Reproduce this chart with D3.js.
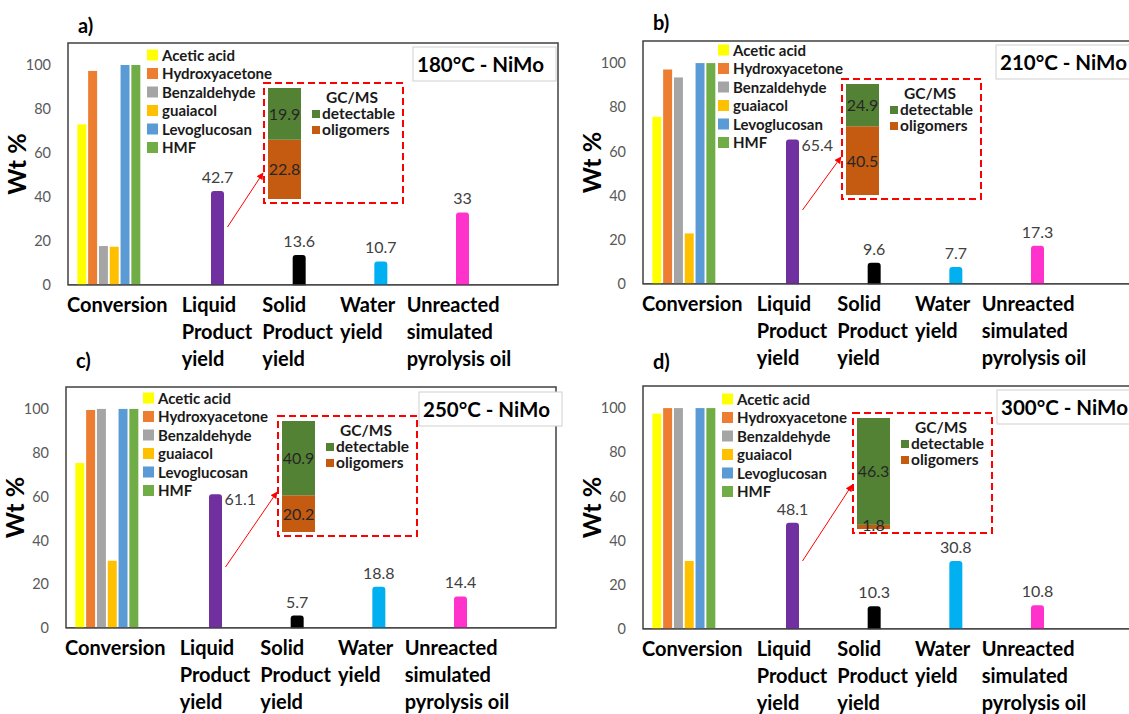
<!DOCTYPE html>
<html>
<head>
<meta charset="utf-8">
<script src="https://cdn.jsdelivr.net/npm/d3@7"></script>
<style>
  body { margin: 0; background: #fff; }
  svg { font-family: Lato, "Open Sans", sans-serif; }
</style>
</head>
<body>
<svg id="chart" width="1129" height="714"></svg>
<script>
// Data
const compounds = ['Acetic acid', 'Hydroxyacetone', 'Benzaldehyde', 'guaiacol', 'Levoglucosan', 'HMF'];
const categories = ['Conversion', 'Liquid Product yield', 'Solid Product yield', 'Water yield', 'Unreacted simulated pyrolysis oil'];
const categoryLines = [['Conversion'], ['Liquid', 'Product', 'yield'], ['Solid', 'Product', 'yield'], ['Water', 'yield'], ['Unreacted', 'simulated', 'pyrolysis oil']];
const yieldCategories = categories.slice(1);
const panelLetters = ['a)', 'b)', 'c)', 'd)'];
const panelTitles = ['180°C - NiMo', '210°C - NiMo', '250°C - NiMo', '300°C - NiMo'];

const conversionA = [73, 97.3, 17.7, 17.4, 100, 100];
const conversionB = [75.7, 97.1, 93.5, 22.9, 100, 100];
const conversionC = [75.3, 99.5, 100, 30.7, 100, 100];
const conversionD = [97.5, 100, 100, 30.8, 100, 100];

const yieldsA = [42.7, 13.6, 10.7, 33];
const yieldsB = [65.4, 9.6, 7.7, 17.3];
const yieldsC = [61.1, 5.7, 18.8, 14.4];
const yieldsD = [48.1, 10.3, 30.8, 10.8];

const gcmsSeries = ['detectable', 'oligomers'];
const detectable = [19.9, 24.9, 40.9, 46.3];
const oligomers = [22.8, 40.5, 20.2, 1.8];

const yTicks = [0, 20, 40, 60, 80, 100];

// Colours
const compoundColors = ['#FFFF00', '#ED7D31', '#A5A5A5', '#FFC000', '#5B9BD5', '#70AD47'];
const yieldColors = ['#7030A0', '#000000', '#00B0F0', '#FF33CC'];
const gcmsColors = { detectable: '#548235', oligomers: '#C55A11' };

// Panel placement on the page
const panelLayout = [
  { x: 68, y: 43, h: 242, liquidLabel: 'top', inset: [196, 40], title: [345, 4], legend: [79, 12], letterDy: -10, arrow: [58, 90] },
  { x: 643, y: 41, h: 243, liquidLabel: 'right', inset: [199, 38], title: [353, 4], legend: [75, 9], letterDy: -11, arrow: [74, 78] },
  { x: 66, y: 387, h: 241, liquidLabel: 'right', inset: [212, 29], title: [353, 5], legend: [77, 11], letterDy: -19, arrow: [61, 76] },
  { x: 643, y: 386, h: 243, liquidLabel: 'top', inset: [210, 27], title: [354, 4], legend: [79, 13], letterDy: -17, arrow: [68, 72] }
];
const plotWidth = 490;
const labelDx = [-1, 32, 31, 27, 12];

const svg = d3.select('#chart');

svg.append('defs').append('marker')
  .attr('id', 'arrowhead')
  .attr('viewBox', '0 0 10 10')
  .attr('refX', 9)
  .attr('refY', 5)
  .attr('markerWidth', 7)
  .attr('markerHeight', 7)
  .attr('orient', 'auto')
  .append('path')
  .attr('d', 'M0,0 L10,5 L0,10 z')
  .attr('fill', '#FF0000');

function createPanel(i, conversion, yields) {
  const L = panelLayout[i];
  const height = L.h;
  const g = svg.append('g').attr('transform', `translate(${L.x},${L.y})`);

  // Scales: 6 category slots (last one empty), 6 compound slots inside each
  const x0 = d3.scaleBand()
    .domain(categories.concat(['']))
    .range([0, plotWidth]);

  const x1 = d3.scaleBand()
    .domain(compounds)
    .range([0, x0.bandwidth()])
    .paddingInner(0.17)
    .paddingOuter(0.865);

  const y = d3.scaleLinear()
    .domain([0, 110])
    .range([height, 0]);

  // Frame
  g.append('rect')
    .attr('width', plotWidth)
    .attr('height', height)
    .attr('fill', 'none')
    .attr('stroke', '#404040')
    .attr('stroke-width', 1.5);

  // Y axis (labels only)
  const yAxis = g.append('g')
    .call(d3.axisLeft(y).tickValues(yTicks).tickSize(0).tickPadding(17));
  yAxis.select('.domain').remove();
  yAxis.selectAll('text')
    .style('font-family', 'Lato, sans-serif')
    .style('font-size', '14.5px')
    .attr('fill', '#595959');

  g.append('text')
    .attr('transform', `translate(${-42}, ${height / 2}) rotate(-90)`)
    .attr('text-anchor', 'middle')
    .style('font-size', '25px')
    .style('font-weight', 'bold')
    .attr('fill', '#000')
    .text('Wt %');

  // Panel letter
  g.append('text')
    .attr('x', 10)
    .attr('y', L.letterDy)
    .style('font-size', '20px')
    .style('font-weight', 'bold')
    .text(panelLetters[i]);

  // Conversion bars
  g.append('g')
    .attr('transform', `translate(${x0(categories[0])},0)`)
    .selectAll('rect')
    .data(compounds.map((c, k) => ({ name: c, value: conversion[k], color: compoundColors[k] })))
    .enter().append('rect')
    .attr('x', d => x1(d.name))
    .attr('width', x1.bandwidth())
    .attr('y', d => y(d.value))
    .attr('height', d => height - y(d.value))
    .attr('fill', d => d.color);

  // Single yield bars (sit in the last compound slot of their category)
  const barW = 13;
  const yieldData = yieldCategories.map((c, k) => ({
    cat: c,
    value: yields[k],
    color: yieldColors[k],
    cx: x0(c) + x1(compounds[5]) + x1.bandwidth() / 2
  }));

  g.selectAll('.ybar')
    .data(yieldData)
    .enter().append('rect')
    .attr('class', 'ybar')
    .attr('x', d => d.cx - barW / 2)
    .attr('width', barW)
    .attr('y', d => y(d.value))
    .attr('height', d => height - y(d.value) + 3)
    .attr('rx', 3)
    .attr('fill', d => d.color);

  // Redraw the bottom frame line over the rounded bar feet
  g.append('line')
    .attr('x1', 0).attr('x2', plotWidth)
    .attr('y1', height).attr('y2', height)
    .attr('stroke', '#404040')
    .attr('stroke-width', 1.5);
  g.append('rect')
    .attr('x', -1).attr('y', height + 0.75)
    .attr('width', plotWidth + 2).attr('height', 4)
    .attr('fill', '#fff');

  g.selectAll('.vlabel')
    .data(yieldData)
    .enter().append('text')
    .attr('class', 'vlabel')
    .attr('x', (d, k) => (k === 0 && L.liquidLabel === 'right') ? d.cx + 9 : d.cx)
    .attr('y', (d, k) => (k === 0 && L.liquidLabel === 'right') ? y(d.value) + 11 : y(d.value) - 8)
    .attr('text-anchor', (d, k) => (k === 0 && L.liquidLabel === 'right') ? 'start' : 'middle')
    .style('font-size', '16px')
    .attr('fill', '#404040')
    .text(d => d.value);

  // Category labels
  categories.forEach((c, k) => {
    const t = g.append('text')
      .attr('x', x0(c) + labelDx[k])
      .style('font-size', '20px')
      .style('font-weight', 'bold')
      .attr('fill', '#000');
    categoryLines[k].forEach((line, j) => {
      t.append('tspan')
        .attr('x', x0(c) + labelDx[k])
        .attr('y', height + 27 + j * 27)
        .text(line);
    });
  });

  // Legend
  const legend = g.append('g')
    .attr('transform', `translate(${L.legend[0]},${L.legend[1]})`);
  const items = legend.selectAll('.legend-item')
    .data(compounds)
    .enter().append('g')
    .attr('transform', (d, k) => `translate(0,${k * 18.5})`);
  items.append('rect')
    .attr('x', 0).attr('y', -5.5)
    .attr('width', 11).attr('height', 11)
    .attr('fill', (d, k) => compoundColors[k]);
  items.append('text')
    .attr('x', 15)
    .attr('y', 5.5)
    .style('font-size', '15px')
    .style('font-weight', 'bold')
    .attr('fill', '#1a1a1a')
    .text(d => d);

  // Title box
  const tb = g.append('g')
    .attr('transform', `translate(${L.title[0]},${L.title[1]})`);
  tb.append('rect')
    .attr('width', 143)
    .attr('height', 34)
    .attr('fill', '#fff')
    .attr('stroke', '#D0D0D0');
  tb.append('text')
    .attr('x', 4)
    .attr('y', 25)
    .style('font-size', '20.5px')
    .style('font-weight', 'bold')
    .attr('fill', '#000')
    .text(panelTitles[i]);

  // GC/MS inset
  const ix = L.inset[0], iy = L.inset[1];
  const inset = g.append('g').attr('transform', `translate(${ix},${iy})`);
  const total = detectable[i] + oligomers[i];
  const iy1 = d3.scaleLinear().domain([0, total]).range([116, 5]);
  // oligomers at the bottom, detectable on top
  const stacked = d3.stack().keys(['oligomers', 'detectable'])([{ detectable: detectable[i], oligomers: oligomers[i] }]);
  const segs = stacked.map(s => ({ key: s.key, y0: s[0][0], y1: s[0][1], value: s[0][1] - s[0][0] }));

  inset.selectAll('.seg')
    .data(segs)
    .enter().append('rect')
    .attr('x', 4)
    .attr('width', 33)
    .attr('y', d => iy1(d.y1))
    .attr('height', d => iy1(d.y0) - iy1(d.y1))
    .attr('fill', d => gcmsColors[d.key]);
  inset.selectAll('.seglabel')
    .data(segs)
    .enter().append('text')
    .attr('x', 20.5)
    .attr('y', d => d.value < 5 ? iy1(d.y0) + 2 : (iy1(d.y0) + iy1(d.y1)) / 2 + 6)
    .attr('text-anchor', 'middle')
    .style('font-size', '16px')
    .attr('fill', '#262626')
    .text(d => +d.value.toFixed(1));

  inset.append('rect')
    .attr('width', 139)
    .attr('height', 120)
    .attr('fill', 'none')
    .attr('stroke', '#FF0000')
    .attr('stroke-width', 2)
    .attr('stroke-dasharray', '7,4');

  inset.append('text')
    .attr('x', 88)
    .attr('y', 20)
    .attr('text-anchor', 'middle')
    .style('font-size', '15.5px')
    .style('font-weight', 'bold')
    .attr('fill', '#1a1a1a')
    .text('GC/MS');
  gcmsSeries.forEach((k, j) => {
    inset.append('rect')
      .attr('x', 48).attr('y', 27 + j * 16)
      .attr('width', 8).attr('height', 8)
      .attr('fill', gcmsColors[k]);
    inset.append('text')
      .attr('x', 58)
      .attr('y', 36 + j * 16)
      .style('font-size', '15.5px')
      .style('font-weight', 'bold')
      .attr('fill', '#1a1a1a')
      .text(k);
  });

  // Red arrow from liquid bar to the inset
  g.append('line')
    .attr('x1', yieldData[0].cx + 10)
    .attr('y1', height - L.arrow[0])
    .attr('x2', ix - 1)
    .attr('y2', iy + L.arrow[1])
    .attr('stroke', '#FF0000')
    .attr('stroke-width', 1)
    .attr('marker-end', 'url(#arrowhead)');
}

createPanel(0, conversionA, yieldsA);
createPanel(1, conversionB, yieldsB);
createPanel(2, conversionC, yieldsC);
createPanel(3, conversionD, yieldsD);
</script>
</body>
</html>
